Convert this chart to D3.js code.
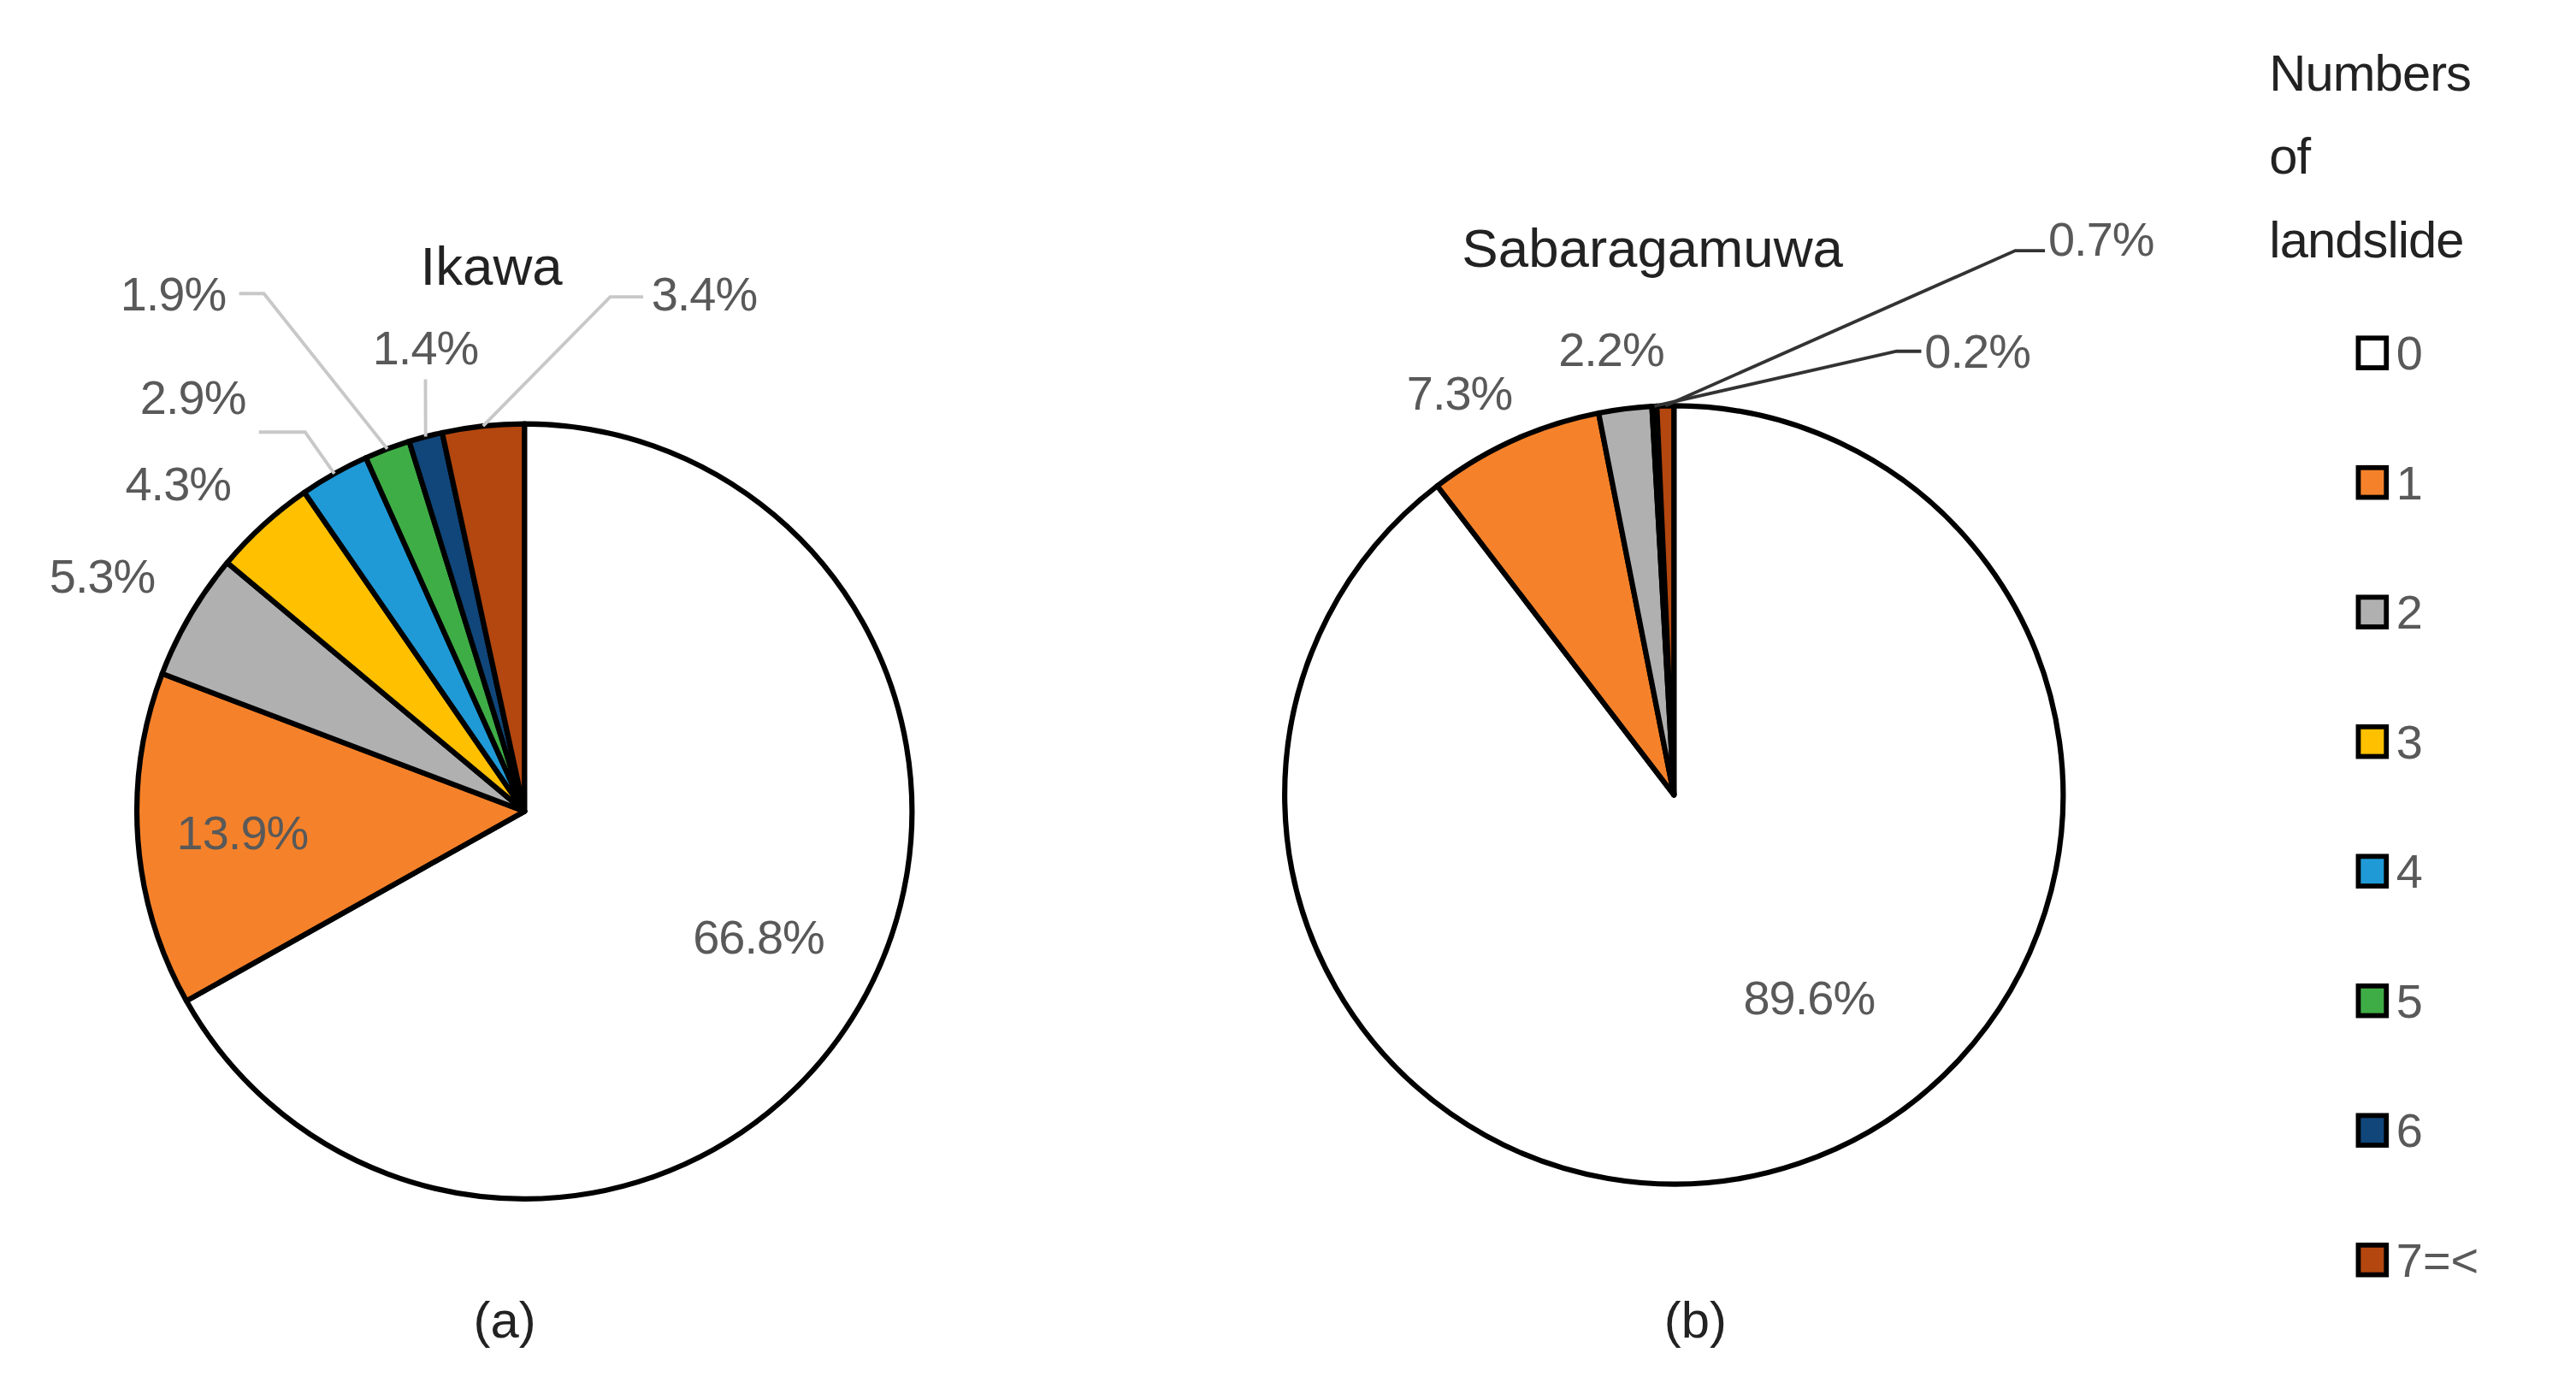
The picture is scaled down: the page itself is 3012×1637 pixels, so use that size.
<!DOCTYPE html>
<html><head><meta charset="utf-8">
<script src="https://cdn.jsdelivr.net/npm/d3@7"></script>
<style>body{margin:0;background:#fff}text{font-family:"Liberation Sans Narrow","Liberation Sans",Arial,sans-serif}</style>
</head><body><svg id="chart" width="3012" height="1637"></svg>
<script>
var categories = ["0","1","2","3","4","5","6","7=<"];
var colors = ["#ffffff","#f5822a","#b0b0b0","#ffc000","#1f9ad6","#3fad46","#10467a","#b3470f"];
var ikawaValues = [66.8,13.9,5.3,4.3,2.9,1.9,1.4,3.4];
var sabaraValues = [89.6,7.3,2.2,0.2,0,0,0,0.7];
// label anchor [x, y, text-anchor, leader start x, leader elbow x, elbow y] in display units
var ikawaLabels = [[460,568,"middle"],[147,505,"middle"],[62,349,"middle"],[108,293,"middle"],
    [117,241,"middle",157,185,262],[105,178,"middle",145,160,178],[258,211,"middle",258,258,230],[395,178,"start",390,370,180]];
var sabaraLabels = [[1097,605,"middle"],[885,238,"middle"],[977,212,"middle"],[1167,213,"start",1165,1150,213],
    null,null,null,[1242,145,"start",1240,1222,152]];

var s = 3012/1562;
var svg = d3.select("#chart");
var g = svg.append("g").attr("transform","scale("+s+")");
var pie = d3.pie().sort(null).value(function(d){return d;});

function drawPie(vals, labels, cx, cy, r, title, tx, tag, tagx, leaderColor){
    var arc = d3.arc().innerRadius(0).outerRadius(r);
    var p = g.append("g").attr("transform","translate("+cx+","+cy+")");
    var arcs = pie(vals);
    p.selectAll("path").data(arcs.filter(function(d){return d.data>0;})).enter().append("path")
        .attr("d",arc).attr("fill",function(d){return colors[d.index];})
        .attr("stroke","#000").attr("stroke-width",3.2).attr("stroke-linejoin","round");
    arcs.forEach(function(a,i){
        var l = labels[i]; if(!l) return;
        g.append("text").attr("x",l[0]).attr("y",l[1]).attr("dy","0.35em")
            .attr("text-anchor",l[2]).attr("font-size",29).attr("letter-spacing",-0.5)
            .attr("fill","#595959").text(a.data.toFixed(1)+"%");
        if(l.length>3){
            var m=(a.startAngle+a.endAngle)/2;
            var ex=cx+Math.sin(m)*r, ey=cy-Math.cos(m)*r;
            g.append("path").attr("fill","none").attr("stroke",leaderColor).attr("stroke-width",2)
                .attr("d","M"+l[3]+","+l[5]+"L"+l[4]+","+l[5]+"L"+ex+","+ey);
        }
    });
    g.append("text").attr("x",tx).attr("y",cy-r-96).attr("dy","0.35em").attr("text-anchor","middle")
        .attr("font-size",33).attr("fill","#222").text(title);
    g.append("text").attr("x",tagx).attr("y",800).attr("dy","0.35em").attr("text-anchor","middle")
        .attr("font-size",31).attr("fill","#222").text(tag);
}
drawPie(ikawaValues, ikawaLabels, 318, 492, 235, "Ikawa", 298, "(a)", 306, "#c8c8c8");
drawPie(sabaraValues, sabaraLabels, 1015, 482, 236, "Sabaragamuwa", 1002, "(b)", 1028, "#333");

var lg = g.append("g");
["Numbers","of","landslide"].forEach(function(t,i){
    lg.append("text").attr("x",1376).attr("y",44+i*50.5).attr("dy","0.35em").attr("font-size",31)
        .attr("letter-spacing",-0.5).attr("fill","#222").text(t);
});
var ly = d3.scalePoint().domain(categories).range([214,764]);
categories.forEach(function(c,i){
    lg.append("rect").attr("x",1430).attr("y",ly(c)-9).attr("width",17).attr("height",18)
        .attr("fill",colors[i]).attr("stroke","#000").attr("stroke-width",3);
    lg.append("text").attr("x",1453).attr("y",ly(c)).attr("dy","0.35em").attr("font-size",29).attr("fill","#595959").text(c);
});
</script></body></html>
